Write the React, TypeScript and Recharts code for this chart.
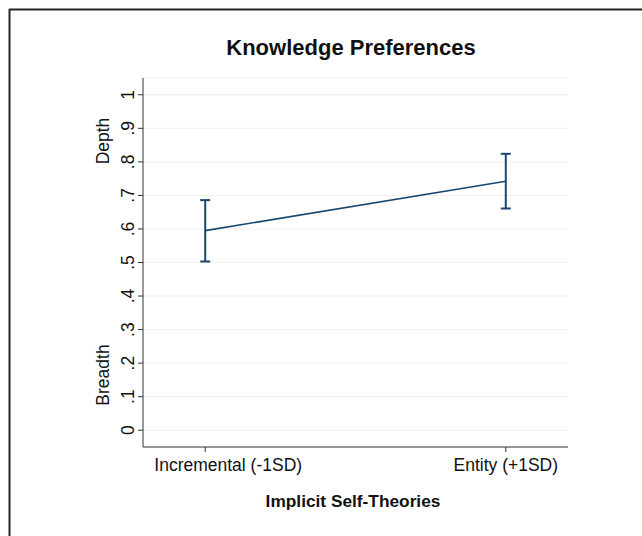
import React from 'react'
import { LineChart, Line, XAxis, YAxis, CartesianGrid, ErrorBar } from 'recharts'

const categories = ['Incremental (-1SD)', 'Entity (+1SD)']
const means = [0.595, 0.742]
const lowers = [0.503, 0.661]
const uppers = [0.686, 0.824]
const yTicks = [0, 0.1, 0.2, 0.3, 0.4, 0.5, 0.6, 0.7, 0.8, 0.9, 1]

const data = categories.map((name, i) => ({
  x: i,
  name,
  mean: means[i],
  err: [means[i] - lowers[i], uppers[i] - means[i]],
}))

const FONT = '"Liberation Sans", Arial, Helvetica, sans-serif'
const NAVY = '#1a476f'

const fmtY = (v: number) => (v === 0 ? '0' : v === 1 ? '1' : v.toFixed(1).replace(/^0/, ''))

const YTick = ({ x, y, payload }: any) => (
  <text
    transform={`translate(${x - 8}, ${y}) rotate(-90)`}
    textAnchor="middle"
    dominantBaseline="central"
    fontSize={17.5}
    fontFamily={FONT}
    fill="#111"
  >
    {fmtY(payload.value)}
  </text>
)

const XTick = ({ x, y, payload }: any) => {
  const shift = payload.value === 0 ? 23 : 0
  return (
    <text x={x + shift} y={y + 17} textAnchor="middle" fontSize={17.5} fontFamily={FONT} fill="#111">
      {categories[payload.value]}
    </text>
  )
}

export default function App() {
  return (
    <div style={{ position: 'absolute', left: 0, top: 0, width: 642, height: 536, background: '#fff' }}>
      <LineChart width={642} height={536} data={data} margin={{ top: 78, right: 74, bottom: 0, left: 0 }}>
        <CartesianGrid vertical={false} stroke="#eef0f2" strokeWidth={1} />
        <XAxis
          dataKey="x"
          type="number"
          domain={[-0.207, 1.207]}
          ticks={[0, 1]}
          height={89}
          tick={<XTick />}
          tickSize={5}
          stroke="#333"
          allowDataOverflow
        />
        <YAxis
          type="number"
          domain={[-0.05, 1.05]}
          ticks={yTicks}
          width={143}
          tick={<YTick />}
          tickSize={5}
          stroke="#333"
          allowDataOverflow
        />
        <Line
          dataKey="mean"
          stroke={NAVY}
          strokeWidth={1.6}
          dot={false}
          isAnimationActive={false}
        >
          <ErrorBar dataKey="err" width={5} stroke={NAVY} strokeWidth={2} direction="y" />
        </Line>
      </LineChart>
      <svg width={642} height={536} style={{ position: 'absolute', left: 0, top: 0, pointerEvents: 'none' }}>
        <line x1={9} y1={9.5} x2={642} y2={9.5} stroke="#222" strokeWidth={2} />
        <line x1={9.5} y1={9} x2={9.5} y2={536} stroke="#222" strokeWidth={2} />
        <text x={351} y={55} textAnchor="middle" fontSize={22} fontWeight="bold" fontFamily={FONT} fill="#111">
          Knowledge Preferences
        </text>
        <text x={353} y={507} textAnchor="middle" fontSize={17.3} fontWeight="bold" fontFamily={FONT} fill="#111">
          Implicit Self-Theories
        </text>
        <text transform="translate(103, 141) rotate(-90)" textAnchor="middle" dominantBaseline="central" fontSize={17.5} fontFamily={FONT} fill="#111">
          Depth
        </text>
        <text transform="translate(103, 375) rotate(-90)" textAnchor="middle" dominantBaseline="central" fontSize={17.5} fontFamily={FONT} fill="#111">
          Breadth
        </text>
      </svg>
    </div>
  )
}
